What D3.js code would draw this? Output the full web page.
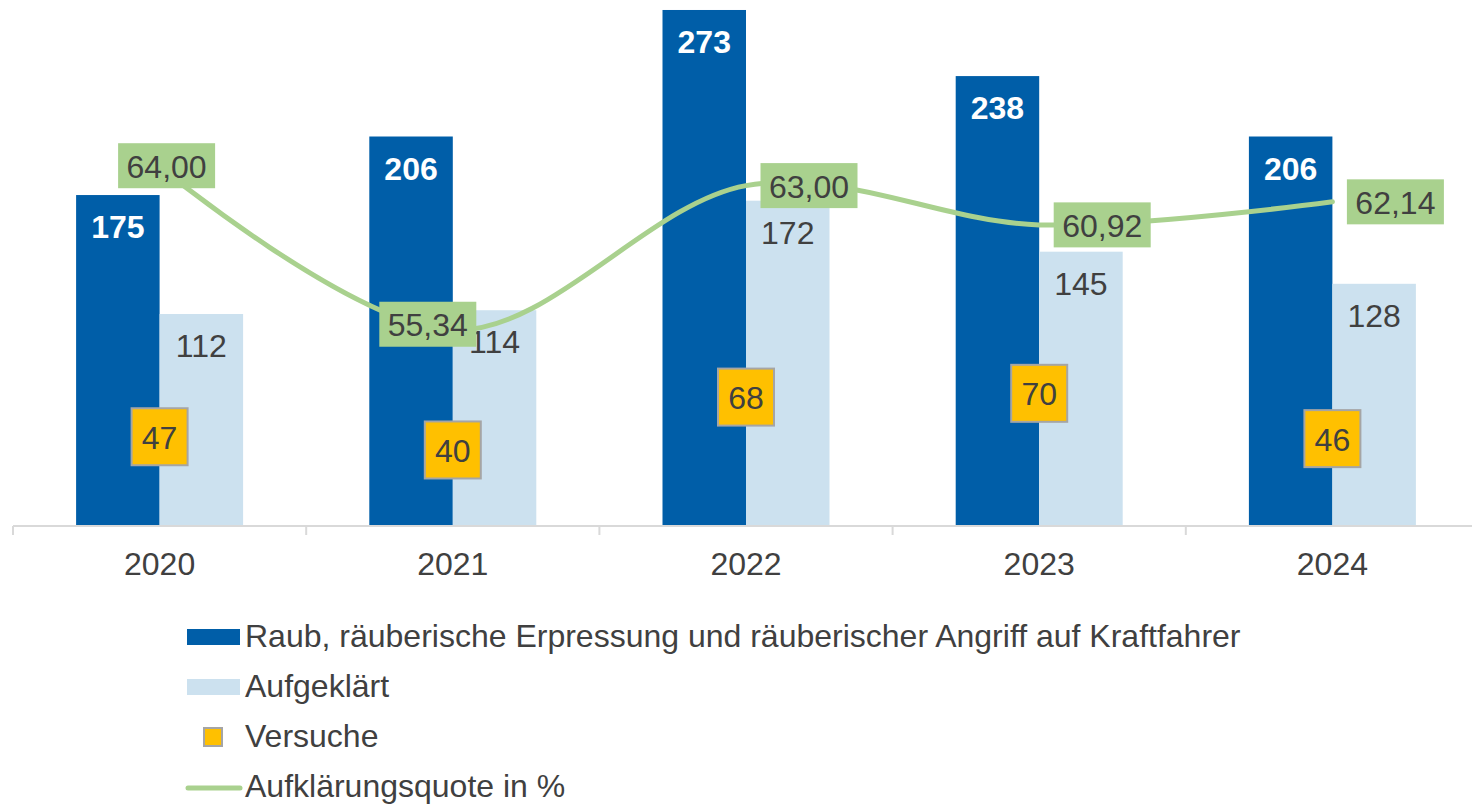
<!DOCTYPE html>
<html>
<head>
<meta charset="utf-8">
<script src="https://cdn.jsdelivr.net/npm/d3@7"></script>
<style>
  html, body { margin: 0; padding: 0; background: #ffffff; }
  svg { display: block; font-family: "Liberation Sans", Arial, sans-serif; }
</style>
</head>
<body>
<svg id="chart" width="1472" height="806"></svg>
<script>
// ---- data ----
const years = ["2020", "2021", "2022", "2023", "2024"];
const raub = [175, 206, 273, 238, 206];
const aufgeklaert = [112, 114, 172, 145, 128];
const versuche = [47, 40, 68, 70, 46];
const quote = [64.00, 55.34, 63.00, 60.92, 62.14];
const seriesNames = [
  "Raub, räuberische Erpressung und räuberischer Angriff auf Kraftfahrer",
  "Aufgeklärt",
  "Versuche",
  "Aufklärungsquote in %"
];
// label placement (offset of label box centre from its line point)
const quoteLabelDx = [7, -25, 63, 63, 63];
const quoteLabelDy = [-1, -6, 0, 0, 0];

// ---- styles ----
const cDark = "#005EA8", cLight = "#CCE1EF", cGreen = "#A9D18E", cYellow = "#FFC000";
const cText = "#404040", cAxis = "#D9D9D9", cBorder = "#A5A5A5";
const fs = 32;

const svg = d3.select("#chart");
const x = d3.scaleBand().domain(years).range([13, 1479]).paddingInner(0).paddingOuter(0);
const bw = 83.5;
const y = d3.scaleLinear().domain([0, 300]).range([525.5, -41]);
const y2 = d3.scaleLinear().domain([45, 75]).range([525.5, -41]);
const cx = d => x(d) + x.bandwidth() / 2;
const de = d3.formatLocale({decimal: ",", thousands: ".", grouping: [3], currency: ["", "€"]});
const f2 = de.format(".2f");

// bars
svg.append("g").selectAll("rect").data(years).join("rect")
  .attr("x", (d) => cx(d) - bw).attr("width", bw)
  .attr("y", (d, i) => y(raub[i])).attr("height", (d, i) => y(0) - y(raub[i]))
  .attr("fill", cDark);
svg.append("g").selectAll("rect").data(years).join("rect")
  .attr("x", (d) => cx(d)).attr("width", bw)
  .attr("y", (d, i) => y(aufgeklaert[i])).attr("height", (d, i) => y(0) - y(aufgeklaert[i]))
  .attr("fill", cLight);

// x axis
const ax = svg.append("g");
ax.append("line").attr("x1", 13).attr("x2", 1479).attr("y1", 526).attr("y2", 526)
  .attr("stroke", cAxis).attr("stroke-width", 2);
const tickXs = years.map(d => x(d)).concat([x(years[years.length - 1]) + x.bandwidth()]);
ax.selectAll("line.tk").data(tickXs).join("line").attr("class", "tk")
  .attr("x1", d => d).attr("x2", d => d).attr("y1", 526).attr("y2", 535)
  .attr("stroke", cAxis).attr("stroke-width", 2);
ax.selectAll("text").data(years).join("text")
  .attr("x", d => cx(d)).attr("y", 575).attr("text-anchor", "middle")
  .attr("font-size", fs).attr("fill", cText).text(d => d);

// bar labels
svg.append("g").selectAll("text").data(years).join("text")
  .attr("x", d => cx(d) - bw / 2).attr("y", (d, i) => y(raub[i]) + 43)
  .attr("text-anchor", "middle").attr("font-size", fs).attr("font-weight", "bold")
  .attr("fill", "#ffffff").text((d, i) => raub[i]);
svg.append("g").selectAll("text").data(years).join("text")
  .attr("x", d => cx(d) + bw / 2).attr("y", (d, i) => y(aufgeklaert[i]) + 43)
  .attr("text-anchor", "middle").attr("font-size", fs)
  .attr("fill", cText).text((d, i) => aufgeklaert[i]);

// quote line
const line = d3.line().x(d => cx(d.year)).y(d => y2(d.v)).curve(d3.curveCatmullRom.alpha(0));
svg.append("path").datum(years.map((d, i) => ({year: d, v: quote[i]})))
  .attr("d", line).attr("fill", "none").attr("stroke", cGreen)
  .attr("stroke-width", 5).attr("stroke-linecap", "round");

// versuche markers (label boxes)
const vg = svg.append("g").selectAll("g").data(years).join("g")
  .attr("transform", (d, i) => `translate(${cx(d)},${y(versuche[i])})`);
vg.append("rect").attr("x", -28).attr("y", -28.5).attr("width", 56).attr("height", 57)
  .attr("fill", cYellow).attr("stroke", cBorder).attr("stroke-width", 2);
vg.append("text").attr("y", 12).attr("text-anchor", "middle").attr("font-size", fs)
  .attr("fill", cText).text((d, i) => versuche[i]);

// quote labels
const qg = svg.append("g").selectAll("g").data(years).join("g")
  .attr("transform", (d, i) => `translate(${cx(d) + quoteLabelDx[i]},${y2(quote[i]) + quoteLabelDy[i]})`);
qg.append("rect").attr("x", -48.5).attr("y", -22.5).attr("width", 97).attr("height", 45)
  .attr("fill", cGreen);
qg.append("text").attr("y", 12).attr("text-anchor", "middle").attr("font-size", fs)
  .attr("fill", cText).text((d, i) => f2(quote[i]));

// legend
const lg = svg.append("g");
const rowY = [647, 697, 747, 797];
lg.append("rect").attr("x", 187).attr("y", 629).attr("width", 53).attr("height", 16).attr("fill", cDark);
lg.append("rect").attr("x", 187).attr("y", 679).attr("width", 53).attr("height", 16).attr("fill", cLight);
lg.append("rect").attr("x", 204).attr("y", 728).attr("width", 18).attr("height", 18)
  .attr("fill", cYellow).attr("stroke", cBorder).attr("stroke-width", 2);
lg.append("line").attr("x1", 188).attr("x2", 240).attr("y1", 788).attr("y2", 788)
  .attr("stroke", cGreen).attr("stroke-width", 5).attr("stroke-linecap", "round");
lg.selectAll("text").data(seriesNames).join("text")
  .attr("x", 245).attr("y", (d, i) => rowY[i]).attr("font-size", fs)
  .attr("fill", cText).text(d => d);
</script>
</body>
</html>
